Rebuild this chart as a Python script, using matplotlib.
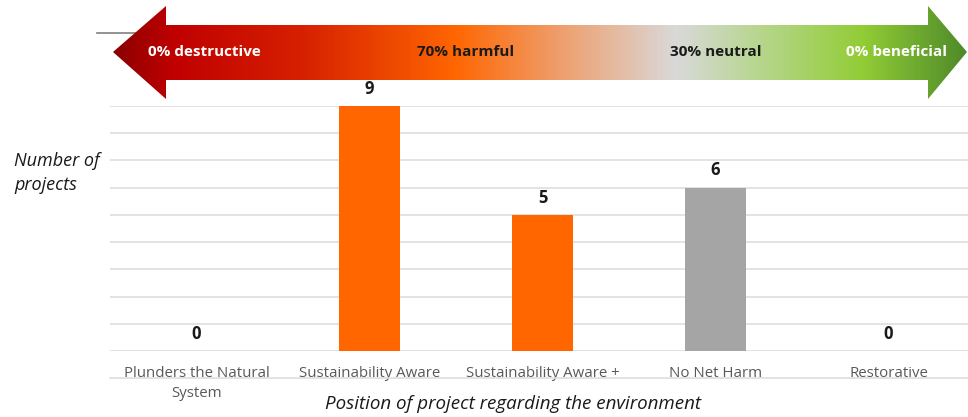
import numpy as np
import matplotlib.pyplot as plt
from matplotlib.patches import Polygon
from matplotlib.colors import LinearSegmentedColormap
from matplotlib.lines import Line2D

plt.rcParams['font.family'] = ['Open Sans', 'DejaVu Sans']

# Data
categories = ['Plunders the Natural\nSystem', 'Sustainability Aware', 'Sustainability Aware +',
              'No Net Harm', 'Restorative']
counts = [0, 9, 5, 6, 0]
bar_colors = ['#ff6600', '#ff6600', '#ff6600', '#a5a5a5', '#a5a5a5']
scale_labels = ['0% destructive', '70% harmful', '30% neutral', '0% beneficial']
scale_text_colors = ['white', '#1a1a1a', '#1a1a1a', 'white']

W, H = 968, 417
fig = plt.figure(figsize=(W / 100, H / 100), dpi=100)

# main bar axes (in pixel units converted to figure fraction)
left, right, top, bottom = 110, 975, 106, 351
ax = fig.add_axes([left / W, 1 - bottom / H, (right - left) / W, (bottom - top) / H])
x = np.arange(len(categories))
ax.bar(x, counts, width=0.35, color=bar_colors, zorder=3)
ax.set_xlim(-0.5, len(categories) - 0.5)
ax.set_ylim(0, 9)
ax.set_yticks(range(0, 10))
ax.yaxis.grid(True, color='#dedede', linewidth=1.2, zorder=0)
ax.tick_params(axis='y', left=False, labelleft=False)
ax.tick_params(axis='x', bottom=False, pad=7, labelcolor='#595959')
ax.set_xticks(x)
ax.set_xticklabels(categories, fontsize=10.8, linespacing=1.45)
for s in ax.spines.values():
    s.set_visible(False)

for xi, v in zip(x, counts):
    ax.annotate(str(v), (xi, v), xytext=(0, 6), textcoords='offset points',
                ha='center', va='bottom', fontsize=12, fontweight='bold', color='#1a1a1a')

fig.text(14 / W, 1 - 173 / H, 'Number of\nprojects', ha='left', va='center',
         fontsize=13, style='italic', color='#1a1a1a', linespacing=1.45)
fig.text(513 / W, 1 - 404 / H, 'Position of project regarding the environment', ha='center',
         va='center', fontsize=13.5, style='italic', color='#1a1a1a')

# overlay axes in pixel coordinates for the scale arrow
ov = fig.add_axes([0, 0, 1, 1], zorder=5)
ov.axis('off')
ov.patch.set_alpha(0)

ov.add_line(Line2D([97, 140], [33, 33], color='#808080', linewidth=1.2, zorder=1))
ov.add_line(Line2D([110, W], [378, 378], color='#dedede', linewidth=1.2, zorder=0))

arrow_pts = [(113, 52), (166, 6), (166, 25), (928, 25), (928, 6), (967, 52),
             (928, 99), (928, 80), (166, 80), (166, 99)]
arrow = Polygon(arrow_pts, closed=True, facecolor='none', edgecolor='none', zorder=2)
ov.add_patch(arrow)

cmap = LinearSegmentedColormap.from_list('scale', [
    (0.0, '#8b0000'), (0.07, '#c00000'), (0.22, '#d62000'), (0.40, '#ff6600'),
    (0.52, '#ef9d6a'), (0.66, '#d9d9d9'), (0.76, '#b6d68c'), (0.88, '#92cc36'),
    (1.0, '#4f8a2a')])
grad = np.linspace(0, 1, 512).reshape(1, -1)
img = ov.imshow(grad, cmap=cmap, extent=[113, 967, 99, 6], aspect='auto', zorder=2)
img.set_clip_path(arrow)
ov.set_xlim(0, W)
ov.set_ylim(H, 0)

for label, cx, c in zip(scale_labels, [204, 466, 716, 897], scale_text_colors):
    ov.text(cx, 52, label, ha='center', va='center', fontsize=11, fontweight='bold',
            color=c, zorder=3)

fig.savefig('out.png', dpi=100)
